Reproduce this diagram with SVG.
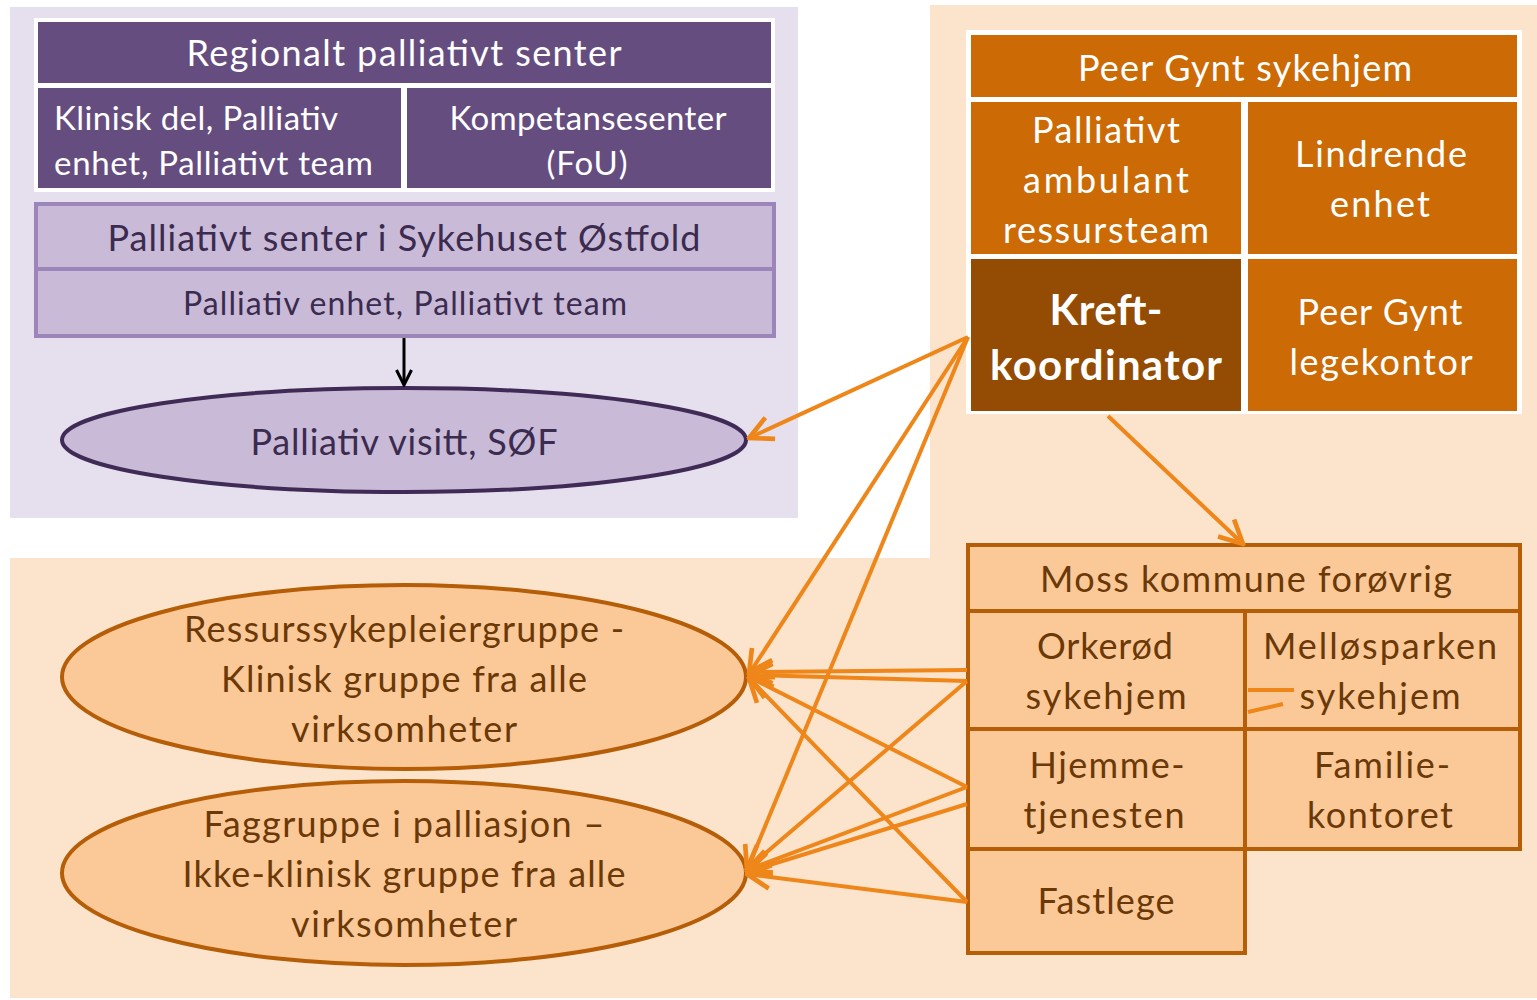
<svg xmlns="http://www.w3.org/2000/svg" width="1537" height="1000" viewBox="0 0 1537 1000">
<style>
text{font-family:Lato,"Open Sans","Liberation Sans",sans-serif;text-anchor:middle;dominant-baseline:central}
.w{fill:#ffffff;font-size:36px}
.dp{fill:#3a2b4f;font-size:36px}
.br{fill:#6b3908;font-size:36px}
.or{fill:#6b3908;font-size:36px}
.s33{font-size:33px}
.s32{font-size:32px}
.kb{font-size:42px;font-weight:bold}
.cell{fill:#654d7f}
.oc{fill:#cc6a05}
.mc{fill:#fbc998;stroke:#b55d07;stroke-width:4}
.arr{stroke:#ee8619;stroke-width:4;fill:none;marker-end:url(#oa)}
</style>
<defs>
<marker id="oa" viewBox="0 0 12 12" refX="11" refY="6" markerWidth="7" markerHeight="7" orient="auto" markerUnits="strokeWidth">
<path d="M1,1 L11,6 L1,11" fill="none" stroke="#ee8619" stroke-width="2"/>
</marker>
<marker id="ba" viewBox="0 0 12 12" refX="11" refY="6" markerWidth="6" markerHeight="6" orient="auto" markerUnits="strokeWidth">
<path d="M1,1 L11,6 L1,11" fill="none" stroke="#000" stroke-width="2"/>
</marker>
</defs>
<rect width="1537" height="1000" fill="#ffffff"/>
<rect x="10" y="7" width="788" height="511" fill="#e6e0ee"/>
<path d="M930,5 H1537 V998 H10 V558 H930 Z" fill="#fce4cc"/>

<g id="regionalt">
<rect x="34" y="18" width="741" height="174" fill="#ffffff"/>
<rect class="cell" x="38" y="22" width="733" height="61"/>
<text class="w" x="404" y="52" textLength="435">Regionalt palliativt senter</text>
<rect class="cell" x="38" y="88" width="363" height="100"/>
<text class="w s33" x="54" y="117" style="text-anchor:start" textLength="284">Klinisk del, Palliativ</text>
<text class="w s33" x="54" y="162" style="text-anchor:start" textLength="319">enhet, Palliativt team</text>
<rect class="cell" x="407" y="88" width="364" height="100"/>
<text class="w s33" x="588" y="117" textLength="277">Kompetansesenter</text>
<text class="w s33" x="587" y="162" textLength="81">(FoU)</text>
</g>

<g id="sykehuset">
<rect x="36" y="204" width="738" height="132" fill="#c9bad7" stroke="#9c86b9" stroke-width="4"/>
<line x1="36" y1="269" x2="774" y2="269" stroke="#9c86b9" stroke-width="4"/>
<text class="dp" x="404" y="237" textLength="593">Palliativt senter i Sykehuset Østfold</text>
<text class="dp s32" x="405" y="302" textLength="444">Palliativ enhet,  Palliativt team</text>
</g>

<g id="visitt">
<ellipse cx="404" cy="440" rx="342" ry="52" fill="#c9bad7" stroke="#3f2b56" stroke-width="4"/>
<text class="dp" x="404" y="441" textLength="307">Palliativ visitt, SØF</text>
</g>

<g id="peergynt">
<rect x="966" y="30" width="556" height="384" fill="#ffffff"/>
<rect class="oc" x="971" y="35" width="546" height="62"/>
<text class="w" x="1245" y="67" textLength="334">Peer Gynt sykehjem</text>
<rect class="oc" x="971" y="102" width="270" height="152"/>
<text class="w" x="1106" y="129" textLength="148">Palliativt</text>
<text class="w" x="1106" y="179" textLength="166">ambulant</text>
<text class="w" x="1106" y="229" textLength="206">ressursteam</text>
<rect class="oc" x="1248" y="102" width="269" height="152"/>
<text class="w" x="1381" y="153" textLength="172">Lindrende</text>
<text class="w" x="1380" y="203" textLength="100">enhet</text>
<rect x="971" y="259" width="270" height="152" fill="#944b03"/>
<text class="w kb" x="1106" y="309" textLength="113">Kreft-</text>
<text class="w kb" x="1106" y="364" textLength="232">koordinator</text>
<rect class="oc" x="1248" y="259" width="269" height="152"/>
<text class="w" x="1380" y="311" textLength="165">Peer Gynt</text>
<text class="w" x="1381" y="361" textLength="183">legekontor</text>
</g>

<g id="moss">
<rect class="mc" x="968" y="545" width="552" height="66"/>
<text class="br" x="1246" y="578" textLength="412">Moss kommune forøvrig</text>
<rect class="mc" x="968" y="611" width="277" height="118"/>
<text class="br" x="1105" y="645" textLength="136">Orkerød</text>
<text class="br" x="1106" y="695" textLength="161">sykehjem</text>
<rect class="mc" x="1245" y="611" width="275" height="118"/>
<text class="br" x="1380" y="645" textLength="234">Melløsparken</text>
<text class="br" x="1380" y="695" textLength="161">sykehjem</text>
<rect class="mc" x="968" y="729" width="277" height="120"/>
<text class="br" x="1107" y="764" textLength="155">Hjemme-</text>
<text class="br" x="1104" y="814" textLength="161">tjenesten</text>
<rect class="mc" x="1245" y="729" width="275" height="120"/>
<text class="br" x="1382" y="764" textLength="136">Familie-</text>
<text class="br" x="1380" y="814" textLength="146">kontoret</text>
<rect class="mc" x="968" y="849" width="277" height="104"/>
<text class="br" x="1106" y="900" textLength="137">Fastlege</text>
</g>

<g id="ressurs">
<ellipse cx="404" cy="677" rx="342" ry="92" fill="#fbc998" stroke="#b55d07" stroke-width="4"/>
<text class="or" x="404" y="628" textLength="440">Ressurssykepleiergruppe -</text>
<text class="or" x="404" y="678" textLength="366">Klinisk gruppe fra alle</text>
<text class="or" x="404" y="728" textLength="226">virksomheter</text>
</g>

<g id="faggruppe">
<ellipse cx="404" cy="873" rx="342" ry="92" fill="#fbc998" stroke="#b55d07" stroke-width="4"/>
<text class="or" x="404" y="823" textLength="401">Faggruppe i palliasjon –</text>
<text class="or" x="404" y="873" textLength="443">Ikke-klinisk gruppe fra alle</text>
<text class="or" x="404" y="923" textLength="226">virksomheter</text>
</g>

<g id="connectors">
<line x1="404" y1="338" x2="404" y2="385" stroke="#000" stroke-width="3" marker-end="url(#ba)"/>
<line class="arr" x1="968" y1="337" x2="749" y2="438"/>
<line class="arr" x1="968" y1="337" x2="749" y2="674"/>
<line class="arr" x1="968" y1="337" x2="747" y2="870"/>
<line class="arr" x1="1108" y1="416" x2="1243" y2="544"/>
<line class="arr" x1="967" y1="670" x2="749" y2="672"/>
<line class="arr" x1="967" y1="681" x2="749" y2="675"/>
<line class="arr" x1="967" y1="681" x2="747" y2="869"/>
<line class="arr" x1="967" y1="787" x2="749" y2="677"/>
<line class="arr" x1="967" y1="787" x2="747" y2="870"/>
<line class="arr" x1="967" y1="804" x2="747" y2="872"/>
<line class="arr" x1="967" y1="902" x2="749" y2="678"/>
<line class="arr" x1="967" y1="902" x2="747" y2="874"/>
<line x1="1248" y1="690" x2="1294" y2="690" stroke="#ee8619" stroke-width="4"/>
<line x1="1248" y1="712" x2="1283" y2="704" stroke="#ee8619" stroke-width="4"/>
</g>
</svg>
